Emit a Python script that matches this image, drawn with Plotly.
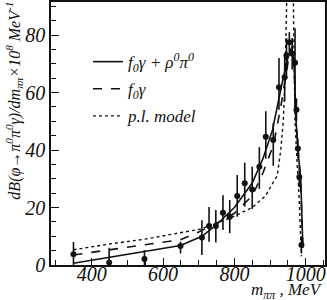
import plotly.graph_objects as go

# ---- data points (m_pipi in MeV, dB/dm x 1e8) ----
pts_m = [349, 449, 548, 649, 709, 729, 748, 768, 787, 808, 829, 850, 870, 888, 909,
         925, 941, 946, 954, 962, 970, 974, 978, 982, 988]
pts_y = [3.7, 0.9, 2.1, 6.6, 9.6, 13.6, 13.6, 18.2, 16.8, 24.0, 28.4, 26.3, 34.2, 44.6, 43.5,
         61.8, 65.3, 73.0, 77.5, 73.6, 70.4, 54.0, 40.5, 30.6, 7.0]
pts_hi = [8.0, 6.0, 5.2, 8.1, 15.6, 20.2, 19.1, 24.3, 22.6, 31.3, 35.6, 34.2, 41.0, 53.5, 49.4,
          72.0, 73.0, 79.0, 81.0, 79.0, 82.4, 58.0, 44.0, 34.0, 10.0]
pts_lo = [0.0, 0.0, 0.0, 4.0, 3.5, 8.1, 7.8, 12.2, 11.1, 16.8, 20.3, 19.5, 26.5, 37.0, 34.5,
          54.0, 57.0, 66.0, 74.0, 68.0, 54.0, 50.0, 37.0, 27.0, 4.0]

# ---- model curves ----
solid_m = [349, 450, 550, 649, 709, 750, 800, 850, 880, 907, 935, 950, 958, 964, 968, 972, 978, 986, 992]
solid_y = [0.6, 2.6, 4.6, 6.8, 10.0, 14.0, 20.0, 28.5, 37.0, 47.0, 64.0, 72.0, 75.0, 74.0, 68.0, 52.0, 40.0, 30.0, 6.0]

dash_m = [349, 450, 550, 649, 700, 750, 800, 850, 880, 910, 930, 945, 955, 962, 968, 972, 978, 986, 992]
dash_y = [3.5, 5.2, 7.0, 8.8, 11.5, 14.5, 18.0, 24.0, 32.0, 42.0, 55.0, 66.0, 74.0, 76.0, 68.0, 52.0, 40.0, 28.0, 6.0]

dot_m = [349, 450, 550, 650, 705, 750, 800, 850, 887, 910, 920, 930, 937, 942, 945, 948, 956, 965, 966, 968, 970, 976, 981, 985, 988]
dot_y = [5.3, 7.3, 9.0, 11.2, 12.5, 14.5, 17.0, 20.0, 24.0, 29.0, 31.0, 40.0, 50.0, 65.0, 80.0, 100.0, 100.0, 100.0, 85.0, 65.0, 50.0, 35.0, 25.0, 12.0, 3.0]

names = ["<i>f<sub>0</sub>γ + ρ<sup>0</sup>π<sup>0</sup></i>", "<i>f<sub>0</sub>γ</i>", "<i>p.l. model</i>"]

fig = go.Figure()
fig.add_trace(go.Scatter(x=solid_m, y=solid_y, mode="lines", name=names[0], legendgroup="a",
                         line=dict(color="#111", width=1.6, dash="solid")))
fig.add_trace(go.Scatter(x=dash_m, y=dash_y, mode="lines", name=names[1], legendgroup="b",
                         line=dict(color="#111", width=1.6, dash="dash")))
fig.add_trace(go.Scatter(x=dot_m, y=dot_y, mode="lines", name=names[2], legendgroup="c",
                         line=dict(color="#111", width=1.4, dash="dot")))
fig.add_trace(go.Scatter(
    x=pts_m, y=pts_y, mode="markers", showlegend=False,
    marker=dict(color="#111", size=6, symbol="circle"),
    error_y=dict(type="data", symmetric=False,
                 array=[h - v for h, v in zip(pts_hi, pts_y)],
                 arrayminus=[v - l for v, l in zip(pts_y, pts_lo)],
                 color="#111", thickness=1.6, width=0)))

serif = "Liberation Serif"
axis_common = dict(showline=True, linecolor="#111", linewidth=1.5, mirror=True,
                   showgrid=False, zeroline=False, ticks="inside", tickcolor="#111",
                   automargin=False,
                   tickfont=dict(family=serif, size=20, color="#111", style="italic"))

fig.update_xaxes(range=[286, 1054], tickvals=[400, 600, 800, 1000], ticklen=7, tickwidth=1.3,
                 ticklabelstandoff=-10,
                 minor=dict(ticks="inside", dtick=50, tick0=0, ticklen=5, tickcolor="#111", tickwidth=1),
                 **axis_common)
fig.update_yaxes(range=[0, 91.5], tickvals=[0, 20, 40, 60, 80], ticklen=8, tickwidth=1.3,
                 minor=dict(ticks="inside", dtick=5, tick0=0, ticklen=5, tickcolor="#111", tickwidth=1),
                 **axis_common)

fig.add_annotation(text="<i>dB(φ→π<sup>0</sup>π<sup>0</sup>γ)/dm<sub>ππ</sub>×10<sup>8</sup> MeV<sup>-1</sup></i>",
                   xref="paper", yref="paper", x=-0.135, y=0.625, textangle=-90, showarrow=False,
                   xanchor="center", yanchor="middle",
                   font=dict(family=serif, size=16, color="#111"))
fig.add_annotation(text="<i>m<sub>ππ</sub> , MeV</i>",
                   xref="paper", yref="paper", x=1.0, y=-0.05, showarrow=False,
                   xanchor="right", yanchor="top",
                   font=dict(family=serif, size=17, color="#111"))

fig.update_layout(
    width=327, height=300,
    margin=dict(l=51, r=2, t=2, b=35, autoexpand=False),
    paper_bgcolor="white", plot_bgcolor="white",
    showlegend=True,
    legend=dict(x=0.135, y=0.84, xanchor="left", yanchor="top", bgcolor="rgba(0,0,0,0)",
                font=dict(family=serif, size=17, color="#111"),
                tracegroupgap=2, traceorder="grouped", itemwidth=30),
)

fig.write_html("out.html", config={"displayModeBar": False},
               post_script="document.body.style.margin='0';document.body.style.overflow='hidden';")
